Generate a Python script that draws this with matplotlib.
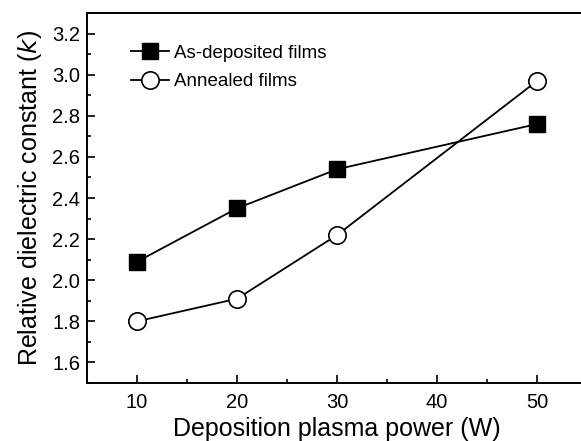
import matplotlib
matplotlib.use("Agg")
import matplotlib.pyplot as plt
from matplotlib.ticker import MultipleLocator

# data
power = [10, 20, 30, 50]
k_as_dep = [2.09, 2.35, 2.54, 2.76]
k_annealed = [1.80, 1.91, 2.22, 2.97]

plt.rcParams['font.family'] = ['Liberation Sans', 'DejaVu Sans']

fig = plt.figure(figsize=(5.81, 4.41), dpi=100)
ax = fig.add_axes([0.1497, 0.1315, 0.861, 0.839])

ax.plot(power, k_as_dep, marker='s', color='black', markerfacecolor='black',
        markersize=11.5, linewidth=1.3, label='As-deposited films')
ax.plot(power, k_annealed, marker='o', color='black', markerfacecolor='white',
        markersize=12.5, markeredgewidth=1.2, linewidth=1.3, label='Annealed films')

ax.set_xlim(5, 55)
ax.set_ylim(1.5, 3.3)
ax.xaxis.set_major_locator(MultipleLocator(10))
ax.xaxis.set_minor_locator(MultipleLocator(5))
ax.yaxis.set_major_locator(MultipleLocator(0.2))
ax.yaxis.set_minor_locator(MultipleLocator(0.1))
ax.yaxis.set_major_formatter(matplotlib.ticker.FormatStrFormatter('%.1f'))
ax.tick_params(which='both', direction='in', labelsize=14.5, width=1.2)
ax.tick_params(which='major', length=6)
ax.tick_params(which='minor', length=3)
ax.tick_params(axis='x', pad=7)
ax.tick_params(axis='y', pad=5)
for s in ax.spines.values():
    s.set_linewidth(1.4)

ax.set_xlabel('Deposition plasma power (W)', fontsize=18, labelpad=4)
ax.set_ylabel('Relative dielectric constant ($\\it{k}$)', fontsize=18, labelpad=6)

ax.legend(loc='upper left', bbox_to_anchor=(0.055, 0.96), frameon=False,
          fontsize=13.5, handlelength=2.0, handletextpad=0.25, labelspacing=0.6)

fig.savefig('out.png', dpi=100)
